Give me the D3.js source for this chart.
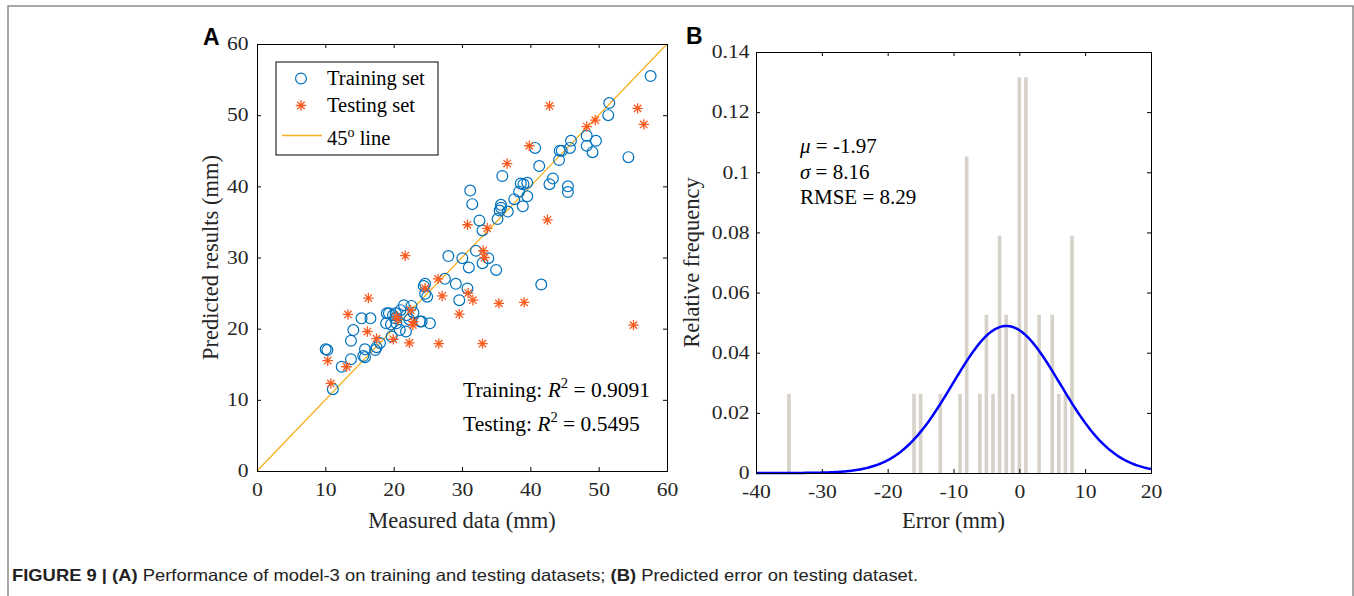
<!DOCTYPE html>
<html>
<head>
<meta charset="utf-8">
<script src="https://cdn.jsdelivr.net/npm/d3@7/dist/d3.min.js"></script>
<style>
  body { margin: 0; background: #fff; }
  svg { display: block; }
  .serif { font-family: "Liberation Serif", "Times New Roman", serif; }
</style>
</head>
<body>
<div id="chart"></div>
<script>
// ---- panel A data: [measured, predicted] ----
const trainingSet = [
  [57.6,55.5],[51.55,51.7],[51.4,50.0],[48.25,47.1],[49.6,46.4],[48.25,45.7],[49.1,44.8],[54.35,44.1],
  [45.95,46.4],[45.8,45.4],[44.3,45.0],[44.6,45.0],[44.2,43.7],[41.3,42.85],[40.7,45.4],[43.3,41.1],
  [42.8,40.3],[45.5,40.0],[45.5,39.2],[35.9,41.45],[38.6,40.4],[39.0,40.3],[39.55,40.5],[31.2,39.4],
  [38.35,39.25],[39.55,38.6],[37.65,38.2],[31.5,37.5],[35.7,37.4],[35.7,37.0],[35.5,36.6],[36.7,36.45],
  [38.9,37.2],[35.2,35.4],[32.55,35.2],[33.0,33.8],[32.05,30.95],[28.0,30.2],[30.05,29.9],[33.85,29.9],
  [33.0,29.2],[31.0,28.6],[35.0,28.25],[27.5,27.0],[29.1,26.3],[30.8,25.65],[41.6,26.2],[24.6,26.3],
  [24.4,26.0],[24.6,24.9],[24.9,24.5],[29.6,24.0],
  [25.3,20.75],[24.1,21.0],[23.85,21.0],[21.5,23.3],[22.6,23.2],[22.9,22.25],[20.3,22.15],[19.0,22.15],
  [19.3,22.15],[18.9,20.75],[21.8,19.6],[15.3,21.45],[16.6,21.45],[14.1,19.8],[13.75,18.3],[10.05,17.1],
  [10.3,17.0],[13.75,15.7],[12.4,14.65],[15.8,17.1],[15.55,16.15],[15.8,16.0],[17.3,17.0],[17.5,17.4],
  [18.0,18.0],[19.7,18.9],[11.1,11.5],[19.6,20.6],[20.4,20.75],[20.2,21.45],[21.9,21.9],[20.9,19.8],
  [19.9,21.9],[21.0,22.6],[22.3,21.3]
];
const testingSet = [
  [42.8,51.3],[55.7,50.95],[56.6,48.7],[49.5,49.3],[48.25,48.4],[39.85,45.7],[36.6,43.2],[30.8,34.6],
  [33.7,34.1],[42.5,35.3],[21.7,30.25],[33.1,30.95],[33.3,30.0],[26.5,27.0],[24.6,25.7],[27.1,24.6],
  [30.9,25.0],[31.6,24.0],[35.4,23.55],[39.1,23.7],[29.6,22.05],[26.6,17.9],[33.0,17.9],[55.1,20.5],
  [16.3,24.3],[13.3,22.0],[16.15,19.6],[17.5,18.6],[19.95,18.5],[22.3,18.0],[10.35,15.5],[13.1,14.65],
  [10.8,12.3],[20.4,21.7],[20.6,21.3],[22.9,21.0],[22.8,20.5],[22.5,22.6]
];
const ticksA = [0, 10, 20, 30, 40, 50, 60];
const r2Training = "0.9091";
const r2Testing = "0.5495";

// ---- panel B data ----
const errorBins = [-35, -16, -15, -12, -9, -8, -6, -5, -4, -3, -2, -1, 0, 1, 3, 5, 6, 7, 8];
const binCounts = [1, 1, 1, 1, 1, 4, 1, 2, 1, 3, 2, 1, 5, 5, 2, 2, 1, 1, 3];
const nTesting = 38;
const mu = -1.97, sigma = 8.16, rmse = 8.29;
const ticksBx = [-40, -30, -20, -10, 0, 10, 20];
const ticksBy = [0, 0.02, 0.04, 0.06, 0.08, 0.1, 0.12, 0.14];

const W = 1354, H = 596;
const svg = d3.select("#chart").append("svg").attr("width", W).attr("height", H);

// outer frame
svg.append("rect").attr("x", 8).attr("y", 6).attr("width", 1345).attr("height", 600)
  .attr("fill", "none").attr("stroke", "#8a8a8a").attr("stroke-width", 1.5);

const SERIF = '"Liberation Serif", "Times New Roman", serif';
const tickFont = 18, tickStretch = 1.2, labelFont = 22.5, noteFont = 21.5;
const plain = d => String(+d.toFixed(2));   // hyphen minus, like the original

function boxAxes(g, x, y, xt, yt, ypad) {
  const [x0, x1] = x.range(), [y0, y1] = y.range();
  const ax = g.append("g");
  ax.append("g").attr("transform", `translate(0,${y0})`)
    .call(d3.axisBottom(x).tickValues(xt).tickSize(-4).tickPadding(12).tickFormat(plain));
  ax.append("g").attr("transform", `translate(0,${y1})`)
    .call(d3.axisTop(x).tickValues(xt).tickSize(-4).tickFormat(""));
  ax.append("g").attr("class", "yl").attr("transform", `translate(${x0},0)`)
    .call(d3.axisLeft(y).tickValues(yt).tickSize(-4).tickPadding(ypad / tickStretch).tickFormat(plain));
  ax.append("g").attr("transform", `translate(${x1},0)`)
    .call(d3.axisRight(y).tickValues(yt).tickSize(-4).tickFormat(""));
  ax.selectAll(".domain").attr("stroke", "#000");
  ax.selectAll(".tick line").attr("stroke", "#000");
  ax.selectAll(".tick text")
    .style("font-family", SERIF).style("font-size", tickFont + "px").attr("fill", "#262626")
    .attr("transform", `scale(${tickStretch},1)`);
}

// ================= Panel A =================
const xA = d3.scaleLinear().domain([0, 60]).range([257, 667]);
const yA = d3.scaleLinear().domain([0, 60]).range([471, 44]);
const gA = svg.append("g");

gA.append("line")
  .attr("x1", xA(0)).attr("y1", yA(0)).attr("x2", xA(60)).attr("y2", yA(60))
  .attr("stroke", "#f5b120").attr("stroke-width", 1.3);

gA.append("g").selectAll("circle").data(trainingSet).join("circle")
  .attr("cx", d => xA(d[0])).attr("cy", d => yA(d[1])).attr("r", 5.4)
  .attr("fill", "none").attr("stroke", "#0072bd").attr("stroke-width", 1.2);

const starColor = "#fa5a1e";
function starPath(s) {
  const a = s * Math.SQRT1_2;
  return `M${-s},0L${s},0M0,${-s}L0,${s}M${-a},${-a}L${a},${a}M${-a},${a}L${a},${-a}`;
}
gA.append("g").selectAll("path").data(testingSet).join("path")
  .attr("transform", d => `translate(${xA(d[0])},${yA(d[1])})`)
  .attr("d", starPath(5.2)).attr("fill", "none").attr("stroke", starColor).attr("stroke-width", 1.3);

boxAxes(gA, xA, yA, ticksA, ticksA, 8.5);

// legend
const lg = gA.append("g");
lg.append("rect").attr("x", 276).attr("y", 62).attr("width", 162).attr("height", 93)
  .attr("fill", "#fff").attr("stroke", "#000").attr("stroke-width", 1);
lg.append("circle").attr("cx", 301).attr("cy", 78.5).attr("r", 5.4)
  .attr("fill", "none").attr("stroke", "#0072bd").attr("stroke-width", 1.2);
lg.append("path").attr("transform", "translate(301,105.5)").attr("d", starPath(5.2))
  .attr("fill", "none").attr("stroke", starColor).attr("stroke-width", 1.3);
lg.append("line").attr("x1", 282).attr("x2", 322).attr("y1", 135.5).attr("y2", 135.5)
  .attr("stroke", "#f5b120").attr("stroke-width", 1.3);
const legTxt = (y) => lg.append("text").attr("class", "serif").attr("x", 327).attr("y", y)
  .attr("font-size", 20.5).attr("fill", "#000");
legTxt(85).text("Training set");
legTxt(112).text("Testing set");
const l3 = legTxt(145);
l3.append("tspan").text("45");
l3.append("tspan").attr("dy", -8).attr("font-size", 14).text("o");
l3.append("tspan").attr("dy", 8).text(" line");

// R^2 annotations
function r2Text(y, label, val) {
  const t = gA.append("text").attr("class", "serif").attr("x", 463).attr("y", y)
    .attr("font-size", noteFont).attr("fill", "#000");
  t.append("tspan").text(label + ": ");
  t.append("tspan").attr("font-style", "italic").text("R");
  t.append("tspan").attr("dy", -9).attr("font-size", 14.5).text("2");
  t.append("tspan").attr("dy", 9).text(" = " + val);
}
r2Text(397, "Training", r2Training);
r2Text(431, "Testing", r2Testing);

gA.append("text").attr("class", "serif").attr("x", 462).attr("y", 528)
  .attr("text-anchor", "middle").attr("font-size", labelFont).attr("fill", "#262626")
  .text("Measured data (mm)");
gA.append("text").attr("class", "serif").attr("transform", "translate(218,257.5) rotate(-90)")
  .attr("text-anchor", "middle").attr("font-size", labelFont).attr("fill", "#262626")
  .text("Predicted results (mm)");
svg.append("text").attr("x", 203).attr("y", 44.5).attr("font-family", "Liberation Sans, Arial, sans-serif")
  .attr("font-weight", "bold").attr("font-size", 23).text("A");

// ================= Panel B =================
const xB = d3.scaleLinear().domain([-40, 20]).range([756, 1151]);
const yB = d3.scaleLinear().domain([0, 0.14]).range([473, 52]);
const gB = svg.append("g");
const hist = errorBins.map((e, i) => ({ e, f: binCounts[i] / nTesting }));
const bw = 0.55;

gB.append("g").selectAll("rect").data(hist).join("rect")
  .attr("x", d => xB(d.e - bw / 2)).attr("width", d => xB(d.e + bw / 2) - xB(d.e - bw / 2))
  .attr("y", d => yB(d.f)).attr("height", d => yB(0) - yB(d.f))
  .attr("fill", "#d6d1c9");

// fitted normal density with the stated mu / sigma
const curveX = d3.range(-40, 20.001, 0.25);
const pdf = v => Math.exp(-0.5 * ((v - mu) / sigma) ** 2) / (sigma * Math.sqrt(2 * Math.PI));
gB.append("path").datum(curveX)
  .attr("d", d3.line().x(v => xB(v)).y(v => yB(pdf(v))))
  .attr("fill", "none").attr("stroke", "#0000ff").attr("stroke-width", 2.5);

boxAxes(gB, xB, yB, ticksBx, ticksBy, 6.5);

const statT = (y) => gB.append("text").attr("class", "serif").attr("x", 800).attr("y", y)
  .attr("font-size", 21).attr("fill", "#000");
let t1 = statT(153);
t1.append("tspan").attr("font-style", "italic").text("μ");
t1.append("tspan").text(" = " + mu.toFixed(2));
let t2 = statT(178.5);
t2.append("tspan").attr("font-style", "italic").text("σ");
t2.append("tspan").text(" = " + sigma.toFixed(2));
statT(204).text("RMSE = " + rmse.toFixed(2));

gB.append("text").attr("class", "serif").attr("x", 953.5).attr("y", 528)
  .attr("text-anchor", "middle").attr("font-size", labelFont).attr("fill", "#262626")
  .text("Error (mm)");
gB.append("text").attr("class", "serif").attr("transform", "translate(698.5,262.5) rotate(-90)")
  .attr("text-anchor", "middle").attr("font-size", labelFont).attr("fill", "#262626")
  .text("Relative frequency");
svg.append("text").attr("x", 686).attr("y", 43.5).attr("font-family", "Liberation Sans, Arial, sans-serif")
  .attr("font-weight", "bold").attr("font-size", 23).text("B");

// caption
const cap = svg.append("text").attr("x", 12).attr("y", 581)
  .attr("font-family", "Liberation Sans, Arial, sans-serif").attr("font-size", 16.5).attr("fill", "#222")
  .attr("textLength", 906).attr("lengthAdjust", "spacingAndGlyphs");
cap.append("tspan").attr("font-weight", "bold").text("FIGURE 9 | (A)");
cap.append("tspan").text(" Performance of model-3 on training and testing datasets; ");
cap.append("tspan").attr("font-weight", "bold").text("(B)");
cap.append("tspan").text(" Predicted error on testing dataset.");
</script>
</body>
</html>
